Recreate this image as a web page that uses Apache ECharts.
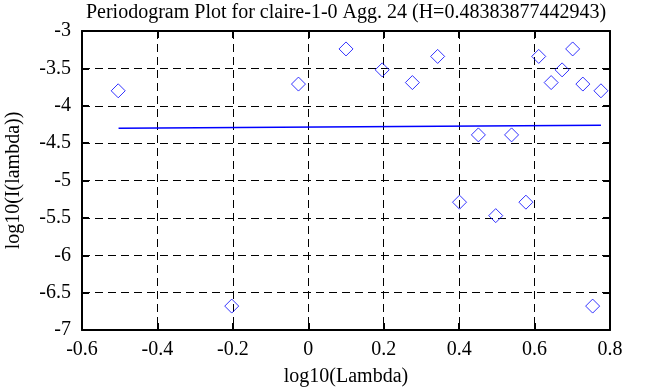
<!DOCTYPE html>
<html>
<head>
<meta charset="utf-8">
<script src="https://cdn.jsdelivr.net/npm/echarts@6/dist/echarts.min.js"></script>
<style>
html,body{margin:0;padding:0;background:#fff;}
#c{width:653px;height:387px;}
</style>
</head>
<body>
<div id="c"></div>
<script>
// Data
const titleText = 'Periodogram Plot for claire-1-0 Agg. 24 (H=0.48383877442943)';
const xName = 'log10(Lambda)';
const yName = 'log10(I(lambda))';
const lambdaLog = [-0.504, -0.203, -0.026, 0.100, 0.196, 0.276, 0.343, 0.401, 0.451, 0.497, 0.539, 0.577, 0.611, 0.644, 0.673, 0.701, 0.728, 0.754, 0.776];
const periodLog = [-3.80, -6.68, -3.71, -3.24, -3.52, -3.69, -3.34, -5.29, -4.39, -5.47, -4.39, -5.29, -3.34, -3.69, -3.52, -3.24, -3.71, -6.68, -3.80];
const fitX = [-0.503, 0.776];
const fitY = [-4.30, -4.26];
const xMin = -0.6, xMax = 0.8, xStep = 0.2;
const yMin = -7, yMax = -3, yStep = 0.5;

const FONT = "'Liberation Serif', 'Times New Roman', serif";
const chart = echarts.init(document.getElementById('c'), null, {renderer: 'canvas'});

const points = lambdaLog.map((x, i) => [x, periodLog[i]]);
const fit = fitX.map((x, i) => [x, fitY[i]]);

const gridDash = {show: true, lineStyle: {color: '#000', type: [8, 5], width: 1}};
const frameLine = {show: true, onZero: false, lineStyle: {color: '#000', width: 2}};
const tickIn = {show: true, inside: true, length: 7, lineStyle: {color: '#000', width: 2}};

chart.setOption({
  backgroundColor: '#fff',
  animation: false,
  title: {
    text: titleText,
    left: 346,
    top: 3,
    padding: 0,
    textAlign: 'center',
    textStyle: {fontFamily: FONT, fontSize: 20, fontWeight: 'normal', color: '#000'}
  },
  grid: {left: 82, right: 43, top: 31, bottom: 57, containLabel: false, outerBoundsMode: 'none'},
  xAxis: [{
    type: 'value', min: xMin, max: xMax, interval: xStep, position: 'bottom',
    name: xName, nameLocation: 'middle', nameGap: 37,
    nameTextStyle: {fontFamily: FONT, fontSize: 20, color: '#000'},
    axisLine: frameLine, axisTick: tickIn, splitLine: gridDash,
    axisLabel: {fontFamily: FONT, fontSize: 20, color: '#000', margin: 10}
  }, {
    type: 'value', min: xMin, max: xMax, interval: xStep, position: 'top',
    axisLine: frameLine, axisTick: tickIn, splitLine: {show: false},
    axisLabel: {show: false}
  }],
  yAxis: [{
    type: 'value', min: yMin, max: yMax, interval: yStep, position: 'left',
    name: yName, nameLocation: 'middle', nameGap: 58, nameRotate: 90,
    nameTextStyle: {fontFamily: FONT, fontSize: 20, color: '#000'},
    axisLine: frameLine, axisTick: tickIn, splitLine: gridDash,
    axisLabel: {fontFamily: FONT, fontSize: 20, color: '#000', margin: 11}
  }, {
    type: 'value', min: yMin, max: yMax, interval: yStep, position: 'right',
    axisLine: frameLine, axisTick: tickIn, splitLine: {show: false},
    axisLabel: {show: false}
  }],
  series: [{
    type: 'line', data: fit, symbol: 'none',
    lineStyle: {color: '#0000ff', width: 1.5}, z: 3
  }, {
    type: 'scatter', data: points, symbol: 'diamond', symbolSize: [14, 14],
    itemStyle: {color: 'rgba(255,255,255,0)', borderColor: '#0000ff', borderWidth: 1}, z: 4
  }]
});
</script>
</body>
</html>
